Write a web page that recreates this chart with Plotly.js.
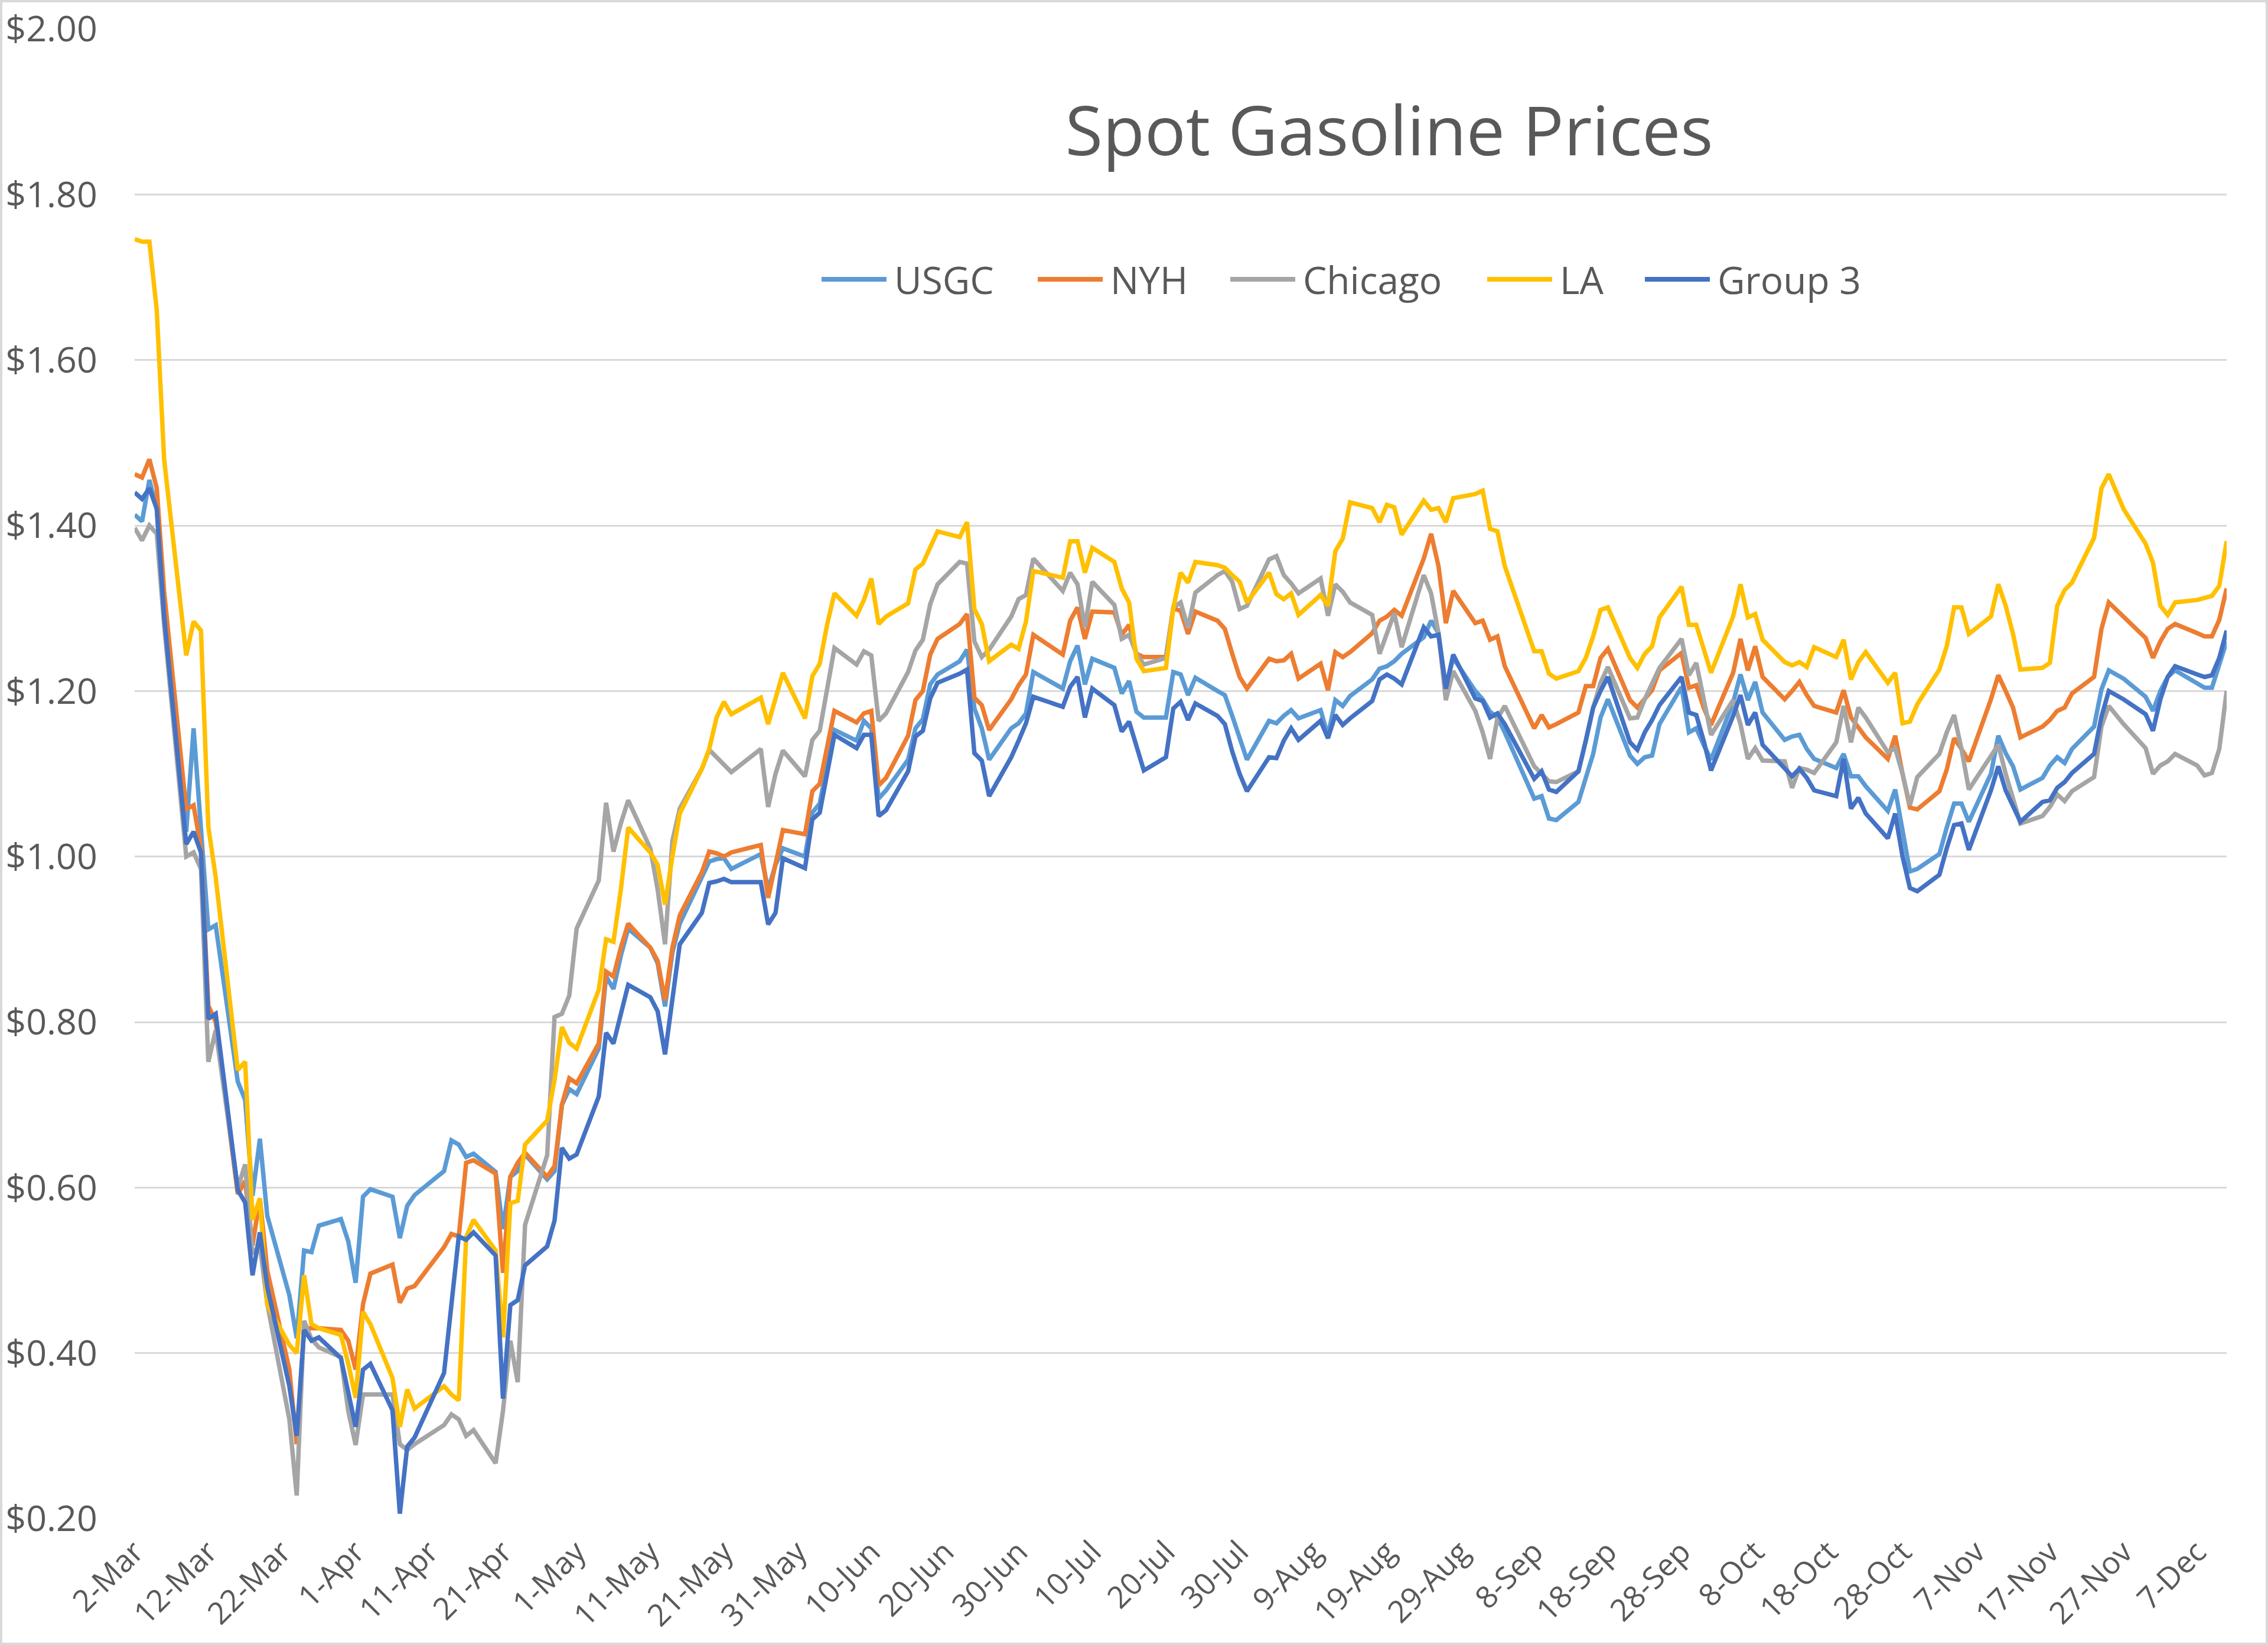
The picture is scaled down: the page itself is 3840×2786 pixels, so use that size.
<!DOCTYPE html>
<html>
<head>
<meta charset="utf-8">
<script src="https://cdn.plot.ly/plotly-3.0.1.min.js"></script>
<style>
html,body{margin:0;padding:0;background:#ffffff;}
#chart{position:absolute;left:0;top:0;width:3840px;height:2786px;}
#frame{position:absolute;left:0;top:0;width:3840px;height:2786px;box-sizing:border-box;border:4px solid #d9d9d9;pointer-events:none;}
</style>
</head>
<body>
<div id="chart"></div>
<div id="frame"></div>
<script>
// ---------- DATA ----------
const chartTitle = "Spot Gasoline Prices";
const seriesNames = ["USGC", "NYH", "Chicago", "LA", "Group 3"];

const dates = [
"2020-03-02","2020-03-03","2020-03-04","2020-03-05","2020-03-06","2020-03-09","2020-03-10","2020-03-11","2020-03-12","2020-03-13","2020-03-16","2020-03-17","2020-03-18","2020-03-19","2020-03-20","2020-03-23","2020-03-24","2020-03-25","2020-03-26","2020-03-27","2020-03-30","2020-03-31",
"2020-04-01","2020-04-02","2020-04-03","2020-04-06","2020-04-07","2020-04-08","2020-04-09","2020-04-13","2020-04-14","2020-04-15","2020-04-16","2020-04-17","2020-04-20","2020-04-21","2020-04-22","2020-04-23","2020-04-24","2020-04-27","2020-04-28","2020-04-29","2020-04-30",
"2020-05-01","2020-05-04","2020-05-05","2020-05-06","2020-05-07","2020-05-08","2020-05-11","2020-05-12","2020-05-13","2020-05-14","2020-05-15","2020-05-18","2020-05-19","2020-05-20","2020-05-21","2020-05-22","2020-05-26","2020-05-27","2020-05-28","2020-05-29",
"2020-06-01","2020-06-02","2020-06-03","2020-06-04","2020-06-05","2020-06-08","2020-06-09","2020-06-10","2020-06-11","2020-06-12","2020-06-15","2020-06-16","2020-06-17","2020-06-18","2020-06-19","2020-06-22","2020-06-23","2020-06-24","2020-06-25","2020-06-26","2020-06-29","2020-06-30",
"2020-07-01","2020-07-02","2020-07-06","2020-07-07","2020-07-08","2020-07-09","2020-07-10","2020-07-13","2020-07-14","2020-07-15","2020-07-16","2020-07-17","2020-07-20","2020-07-21","2020-07-22","2020-07-23","2020-07-24","2020-07-27","2020-07-28","2020-07-29","2020-07-30","2020-07-31",
"2020-08-03","2020-08-04","2020-08-05","2020-08-06","2020-08-07","2020-08-10","2020-08-11","2020-08-12","2020-08-13","2020-08-14","2020-08-17","2020-08-18","2020-08-19","2020-08-20","2020-08-21","2020-08-24","2020-08-25","2020-08-26","2020-08-27","2020-08-28","2020-08-31",
"2020-09-01","2020-09-02","2020-09-03","2020-09-04","2020-09-08","2020-09-09","2020-09-10","2020-09-11","2020-09-14","2020-09-15","2020-09-16","2020-09-17","2020-09-18","2020-09-21","2020-09-22","2020-09-23","2020-09-24","2020-09-25","2020-09-28","2020-09-29","2020-09-30",
"2020-10-01","2020-10-02","2020-10-05","2020-10-06","2020-10-07","2020-10-08","2020-10-09","2020-10-12","2020-10-13","2020-10-14","2020-10-15","2020-10-16","2020-10-19","2020-10-20","2020-10-21","2020-10-22","2020-10-23","2020-10-26","2020-10-27","2020-10-28","2020-10-29","2020-10-30",
"2020-11-02","2020-11-03","2020-11-04","2020-11-05","2020-11-06","2020-11-09","2020-11-10","2020-11-11","2020-11-12","2020-11-13","2020-11-16","2020-11-17","2020-11-18","2020-11-19","2020-11-20","2020-11-23","2020-11-24","2020-11-25","2020-11-27","2020-11-30",
"2020-12-01","2020-12-02","2020-12-03","2020-12-04","2020-12-07","2020-12-08","2020-12-09","2020-12-10","2020-12-11"
];

const usgc = [
1.413,1.405,1.455,1.42,1.30,1.03,1.155,1.03,0.912,0.917,0.728,0.706,0.59,0.659,0.566,0.47,0.418,0.524,0.522,0.554,0.562,0.535,
0.485,0.589,0.598,0.589,0.539,0.578,0.591,0.62,0.657,0.652,0.637,0.641,0.619,0.55,0.613,0.62,0.64,0.61,0.62,0.70,0.719,
0.713,0.768,0.855,0.84,0.88,0.913,0.89,0.871,0.819,0.884,0.919,0.974,0.994,0.997,0.998,0.985,1.003,0.96,0.99,1.01,
1.0,1.053,1.064,1.11,1.153,1.14,1.164,1.155,1.07,1.08,1.117,1.155,1.166,1.208,1.22,1.236,1.25,1.179,1.155,1.117,1.155,1.161,
1.173,1.223,1.203,1.236,1.255,1.208,1.239,1.228,1.197,1.212,1.175,1.168,1.168,1.223,1.22,1.195,1.216,1.20,1.195,1.17,1.143,1.117,
1.164,1.161,1.17,1.177,1.167,1.177,1.146,1.189,1.182,1.194,1.214,1.227,1.23,1.236,1.245,1.265,1.285,1.27,1.205,1.24,1.20,
1.19,1.175,1.168,1.15,1.07,1.073,1.046,1.044,1.066,1.095,1.124,1.168,1.19,1.122,1.112,1.12,1.122,1.16,1.205,1.15,1.155,
1.135,1.117,1.186,1.22,1.189,1.211,1.174,1.141,1.145,1.147,1.13,1.118,1.107,1.124,1.097,1.097,1.085,1.055,1.081,1.03,0.982,0.985,
1.003,1.035,1.064,1.064,1.042,1.10,1.146,1.125,1.109,1.081,1.095,1.11,1.12,1.113,1.13,1.157,1.202,1.225,1.215,1.193,
1.176,1.20,1.217,1.225,1.21,1.204,1.204,1.23,1.26
];

const nyh = [
1.462,1.458,1.48,1.445,1.32,1.057,1.062,1.01,0.82,0.80,0.592,0.608,0.53,0.587,0.50,0.38,0.29,0.43,0.43,0.43,0.428,0.415,
0.38,0.459,0.496,0.507,0.461,0.478,0.481,0.528,0.544,0.541,0.63,0.633,0.617,0.497,0.613,0.63,0.642,0.613,0.626,0.70,0.732,
0.726,0.774,0.861,0.855,0.89,0.919,0.89,0.874,0.826,0.89,0.929,0.981,1.006,1.004,1.0,1.005,1.014,0.95,0.99,1.032,
1.027,1.079,1.088,1.13,1.176,1.162,1.173,1.176,1.086,1.095,1.146,1.189,1.2,1.244,1.263,1.281,1.293,1.192,1.183,1.153,1.19,1.207,
1.22,1.268,1.244,1.285,1.301,1.263,1.296,1.295,1.268,1.28,1.245,1.241,1.241,1.30,1.297,1.269,1.296,1.285,1.275,1.245,1.217,1.203,
1.239,1.236,1.237,1.245,1.215,1.233,1.201,1.247,1.241,1.247,1.27,1.285,1.29,1.298,1.291,1.36,1.39,1.351,1.282,1.321,1.282,
1.285,1.262,1.266,1.23,1.155,1.171,1.156,1.16,1.174,1.206,1.206,1.24,1.251,1.189,1.18,1.19,1.201,1.225,1.246,1.204,1.207,
1.18,1.159,1.222,1.263,1.225,1.254,1.217,1.19,1.20,1.211,1.195,1.182,1.174,1.201,1.168,1.155,1.144,1.118,1.146,1.10,1.059,1.057,
1.079,1.105,1.143,1.13,1.115,1.19,1.219,1.20,1.18,1.144,1.157,1.165,1.176,1.18,1.197,1.217,1.275,1.307,1.29,1.264,
1.24,1.26,1.275,1.281,1.27,1.266,1.266,1.286,1.324
];

const chicago = [
1.397,1.382,1.40,1.39,1.28,1.00,1.005,0.985,0.752,0.79,0.60,0.628,0.52,0.53,0.46,0.32,0.228,0.439,0.417,0.407,0.395,0.33,
0.289,0.35,0.35,0.35,0.29,0.283,0.29,0.313,0.326,0.32,0.30,0.307,0.267,0.33,0.415,0.365,0.555,0.639,0.806,0.81,0.832,
0.913,0.971,1.065,1.006,1.04,1.068,1.01,0.96,0.894,1.019,1.058,1.106,1.129,1.12,1.11,1.102,1.13,1.06,1.10,1.128,
1.097,1.141,1.152,1.20,1.252,1.232,1.248,1.243,1.164,1.173,1.223,1.249,1.262,1.305,1.329,1.356,1.354,1.26,1.241,1.25,1.29,1.311,
1.316,1.36,1.321,1.343,1.329,1.277,1.332,1.304,1.263,1.268,1.245,1.232,1.24,1.301,1.307,1.276,1.319,1.34,1.345,1.332,1.299,1.303,
1.359,1.363,1.34,1.33,1.318,1.336,1.291,1.329,1.32,1.307,1.292,1.245,1.27,1.294,1.253,1.34,1.318,1.27,1.189,1.224,1.176,
1.15,1.118,1.167,1.182,1.109,1.10,1.091,1.09,1.103,1.14,1.18,1.21,1.229,1.167,1.168,1.19,1.21,1.228,1.263,1.219,1.234,
1.19,1.147,1.189,1.16,1.118,1.131,1.116,1.115,1.083,1.107,1.105,1.101,1.138,1.182,1.138,1.18,1.168,1.126,1.131,1.10,1.062,1.096,
1.124,1.15,1.171,1.13,1.081,1.12,1.135,1.10,1.07,1.04,1.049,1.06,1.075,1.067,1.079,1.096,1.157,1.182,1.16,1.131,
1.10,1.11,1.115,1.124,1.11,1.098,1.101,1.13,1.20
];

const la = [
1.746,1.743,1.743,1.66,1.48,1.243,1.284,1.273,1.036,0.975,0.742,0.752,0.561,0.587,0.458,0.41,0.40,0.494,0.435,0.43,0.422,0.387,
0.346,0.45,0.435,0.37,0.311,0.356,0.333,0.36,0.35,0.343,0.54,0.561,0.524,0.419,0.581,0.584,0.652,0.681,0.73,0.794,0.775,
0.768,0.839,0.9,0.897,0.96,1.035,1.005,0.99,0.942,1.0,1.052,1.106,1.13,1.168,1.187,1.172,1.192,1.16,1.19,1.222,
1.167,1.218,1.233,1.28,1.318,1.291,1.31,1.336,1.281,1.29,1.306,1.347,1.354,1.373,1.393,1.386,1.404,1.299,1.281,1.236,1.256,1.251,
1.284,1.345,1.337,1.381,1.381,1.343,1.373,1.356,1.324,1.307,1.239,1.224,1.228,1.30,1.343,1.331,1.356,1.352,1.349,1.34,1.332,1.307,
1.343,1.317,1.311,1.318,1.292,1.316,1.303,1.369,1.384,1.428,1.421,1.404,1.425,1.422,1.389,1.43,1.419,1.421,1.404,1.433,1.438,
1.442,1.396,1.393,1.351,1.248,1.248,1.221,1.215,1.224,1.24,1.266,1.298,1.301,1.24,1.228,1.245,1.254,1.289,1.326,1.28,1.28,
1.25,1.222,1.29,1.329,1.289,1.293,1.262,1.235,1.231,1.235,1.229,1.253,1.241,1.262,1.214,1.235,1.247,1.21,1.222,1.161,1.163,1.184,
1.226,1.254,1.301,1.301,1.269,1.29,1.329,1.303,1.269,1.226,1.228,1.234,1.303,1.322,1.331,1.385,1.445,1.462,1.42,1.378,
1.355,1.303,1.292,1.307,1.31,1.312,1.315,1.327,1.381
];

const group3 = [
1.44,1.432,1.445,1.42,1.29,1.015,1.03,1.005,0.804,0.81,0.597,0.582,0.494,0.546,0.48,0.36,0.30,0.428,0.415,0.419,0.394,0.35,
0.311,0.38,0.387,0.331,0.206,0.287,0.298,0.376,0.46,0.541,0.537,0.546,0.518,0.345,0.458,0.464,0.506,0.529,0.56,0.648,0.635,
0.64,0.71,0.787,0.774,0.81,0.845,0.83,0.813,0.761,0.826,0.894,0.932,0.968,0.97,0.973,0.969,0.969,0.918,0.932,0.998,
0.986,1.045,1.053,1.10,1.147,1.131,1.147,1.147,1.049,1.056,1.103,1.145,1.152,1.191,1.21,1.221,1.226,1.125,1.116,1.073,1.12,1.14,
1.161,1.193,1.181,1.205,1.217,1.168,1.203,1.183,1.151,1.163,1.132,1.104,1.12,1.179,1.187,1.165,1.185,1.17,1.16,1.127,1.10,1.079,
1.12,1.119,1.14,1.155,1.141,1.164,1.143,1.171,1.159,1.167,1.188,1.214,1.22,1.215,1.208,1.277,1.266,1.268,1.203,1.244,1.191,
1.188,1.168,1.173,1.16,1.094,1.103,1.081,1.078,1.103,1.14,1.18,1.20,1.217,1.138,1.129,1.15,1.165,1.183,1.217,1.174,1.171,
1.14,1.104,1.17,1.195,1.159,1.174,1.135,1.105,1.097,1.106,1.095,1.08,1.073,1.118,1.058,1.071,1.052,1.022,1.052,1.00,0.962,0.958,
0.978,1.01,1.038,1.04,1.008,1.08,1.109,1.08,1.06,1.042,1.066,1.068,1.083,1.09,1.101,1.124,1.169,1.2,1.19,1.172,
1.152,1.19,1.217,1.23,1.22,1.217,1.219,1.24,1.273
];

const seriesValues = [usgc, nyh, chicago, la, group3];
const seriesColors = ["#5B9BD5", "#ED7D31", "#A5A5A5", "#FFC000", "#4472C4"];

// ---------- LAYOUT GEOMETRY (pixels) ----------
const W = 3840, H = 2786;
const PL = 228, PR = 3770, PT = 49, PB = 2572;   // plot area
const fontFam = "'Open Sans', 'Noto Sans', sans-serif";
const txtColor = "#595959";
function px(x) { return (x - PL) / (PR - PL); }
function py(y) { return 1 - (y - PT) / (PB - PT); }

seriesValues.forEach((s, i) => {
  if (s.length !== dates.length) console.error(seriesNames[i] + " length " + s.length + " vs " + dates.length);
});

const traces = seriesNames.map((name, i) => ({
  type: "scatter",
  mode: "lines",
  name: name,
  x: dates,
  y: seriesValues[i],
  line: { color: seriesColors[i], width: 7.5, shape: "linear" },
  showlegend: false,
  hoverinfo: "skip"
}));

// custom legend (long line samples like the original)
const legendY = 473;
const legendItems = [
  { line: [1391, 1501], text: 1512 },
  { line: [1757, 1867], text: 1878 },
  { line: [2083, 2193], text: 2204 },
  { line: [2518, 2628], text: 2639 },
  { line: [2785, 2895], text: 2906 }
];
const shapes = [];
const annotations = [];
legendItems.forEach((it, i) => {
  shapes.push({
    type: "line", xref: "paper", yref: "paper",
    x0: px(it.line[0]), x1: px(it.line[1]), y0: py(legendY), y1: py(legendY),
    line: { color: seriesColors[i], width: 8 }
  });
  annotations.push({
    xref: "paper", yref: "paper", x: px(it.text), y: py(legendY),
    xanchor: "left", yanchor: "middle", showarrow: false,
    text: seriesNames[i],
    font: { family: fontFam, size: 64, color: txtColor }
  });
});

const layout = {
  width: W, height: H,
  margin: { l: PL, r: W - PR, t: PT, b: H - PB, pad: 0 },
  paper_bgcolor: "#ffffff",
  plot_bgcolor: "#ffffff",
  title: {
    text: chartTitle,
    xref: "paper", yref: "paper",
    x: px(2352), y: py(222),
    xanchor: "center", yanchor: "middle",
    font: { family: fontFam, size: 116, color: txtColor }
  },
  xaxis: {
    type: "date",
    range: ["2020-03-02", "2020-12-11"],
    tick0: "2020-03-02",
    dtick: 864000000,
    tickformat: "%-d-%b",
    tickangle: -45,
    showgrid: false, zeroline: false, showline: false,
    ticks: "outside", ticklen: 4, tickcolor: "rgba(0,0,0,0)",
    tickfont: { family: fontFam, size: 52, color: txtColor },
    fixedrange: true
  },
  yaxis: {
    range: [0.2, 2.0],
    tick0: 0.2, dtick: 0.2,
    tickprefix: "$", tickformat: ".2f",
    showgrid: true, gridcolor: "#d9d9d9", gridwidth: 3,
    zeroline: false, showline: false,
    ticks: "outside", ticklen: 50, tickcolor: "rgba(0,0,0,0)",
    tickfont: { family: fontFam, size: 61, color: txtColor },
    fixedrange: true
  },
  shapes: shapes,
  annotations: annotations,
  showlegend: false,
  hovermode: false
};

Plotly.newPlot("chart", traces, layout, { staticPlot: true, displayModeBar: false });
</script>
</body>
</html>
